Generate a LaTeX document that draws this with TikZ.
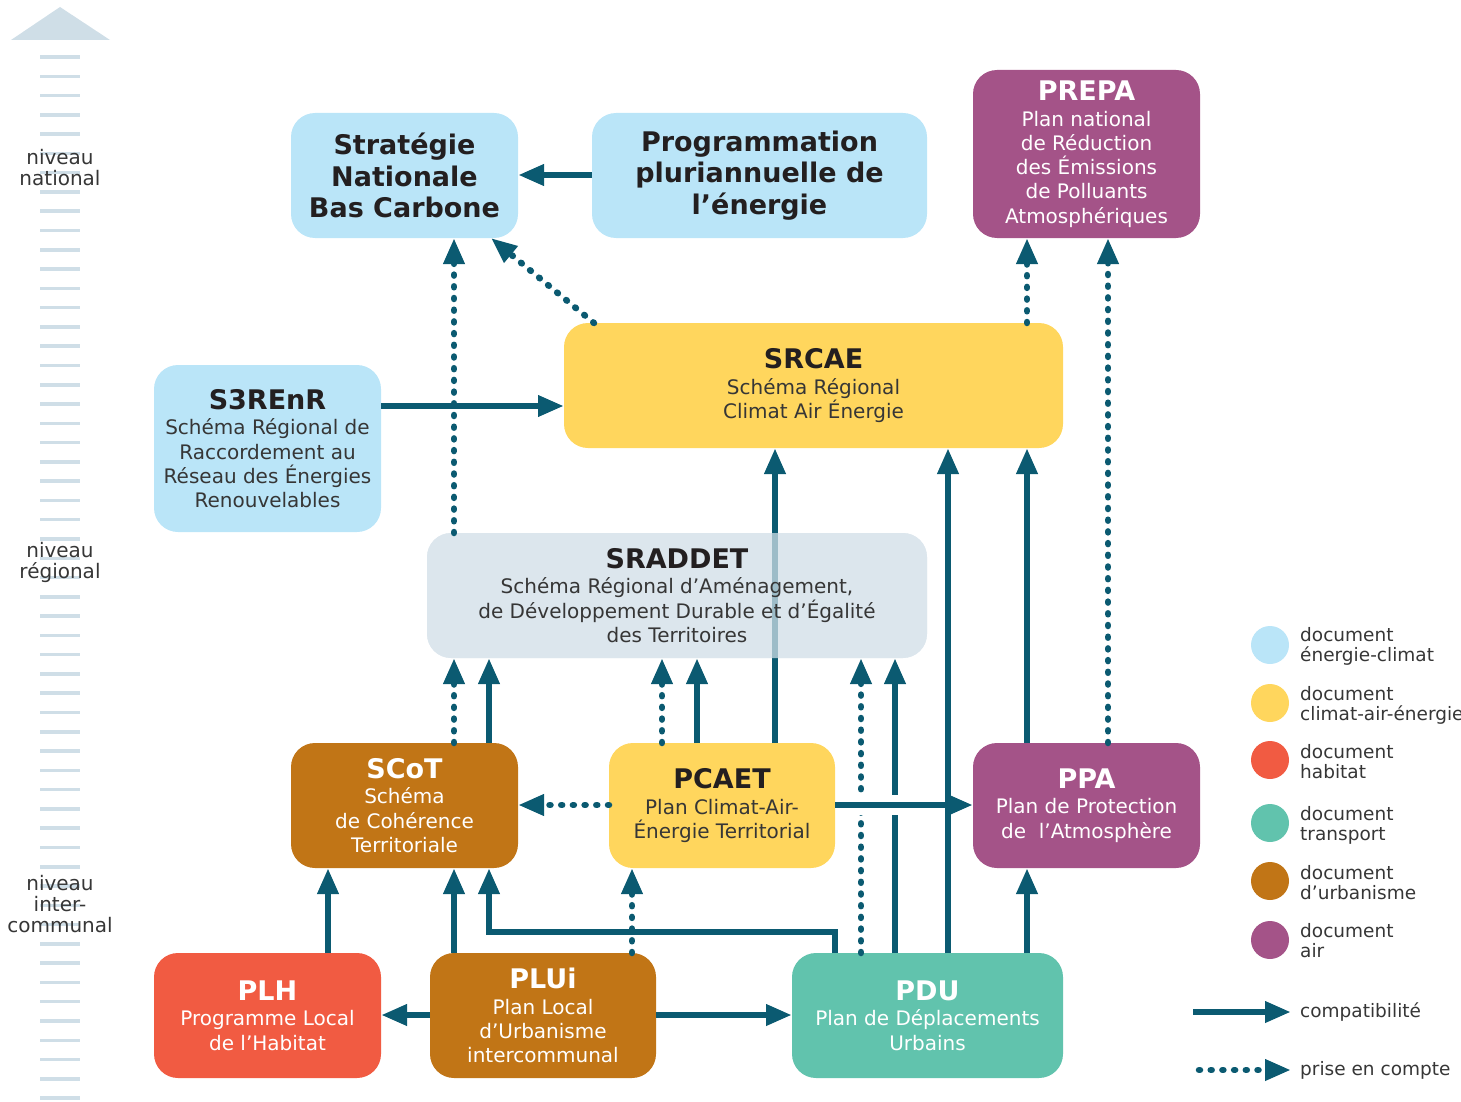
\documentclass[tikz,border=0pt]{standalone}
\usepackage{fontspec}
\setmainfont{DejaVu Sans}
\usetikzlibrary{arrows.meta}

\definecolor{cblue}{HTML}{BAE5F8}
\definecolor{cyellow}{HTML}{FFD65D}
\definecolor{cgray}{HTML}{DCE6ED}
\definecolor{cbrown}{HTML}{C17516}
\definecolor{cpurple}{HTML}{A45388}
\definecolor{corange}{HTML}{F15B42}
\definecolor{cteal}{HTML}{61C3AD}
\definecolor{carrow}{HTML}{0B5A71}
\definecolor{cscale}{HTML}{CFDEE7}
\definecolor{ctext}{HTML}{231F20}
\definecolor{cbody}{HTML}{363636}

\tikzset{
  doc/.style={rounded corners=24pt, inner sep=0pt, outer sep=0pt, align=center,
    font=\fontsize{20}{24.3}\selectfont},
  darkdoc/.style={doc, text=cbody},
  lightdoc/.style={doc, text=white},
  bigdoc/.style={rounded corners=24pt, inner sep=0pt, outer sep=0pt, align=center,
    font=\fontsize{27}{31.5}\selectfont\bfseries, text=ctext},
  comp/.style={draw=carrow, line width=6.5pt, -{Triangle[length=26pt,width=20pt]}},
  prise/.style={draw=carrow, line width=6.5pt, line cap=round, dash pattern=on 1pt off 10.7pt,
    -{Triangle[length=26pt,width=20pt]}},
  casing/.style={draw=white, line width=20pt},
  legtext/.style={anchor=west, align=left, inner sep=0pt, text=cbody,
    font=\fontsize{18.5}{20}\selectfont},
  legdot/.style={circle, inner sep=0pt, minimum size=38pt},
  levtext/.style={align=center, inner sep=0pt, text=cbody, font=\fontsize{20}{21}\selectfont},
}
\newcommand{\dtl}[1]{{\fontsize{27}{27}\selectfont\bfseries\color{ctext}#1}}
\newcommand{\wtl}[1]{{\fontsize{27}{27}\selectfont\bfseries\color{white}#1}}

\begin{document}
\begin{tikzpicture}[x=1pt, y=-1pt]
\useasboundingbox (0,0) rectangle (1461,1102);

% level scale
\fill[cscale] (11,40) -- (60,7) -- (110,40) -- cycle;
\foreach \k in {0,...,54}
  \draw[cscale, line width=3.5pt] (40,{57+19.28*\k}) -- (80,{57+19.28*\k});
\node[levtext] (lvnat) at (60,168) {niveau\\national};
\node[levtext] (lvreg) at (60,562) {niveau\\régional};
\node[levtext] (lvint) at (60,904) {niveau\\inter-\\communal};

% boxes
\node[bigdoc, fill=cblue, minimum width=227pt, minimum height=125pt] (snbc) at (404.5,175.5)
  {Stratégie\\Nationale\\Bas Carbone};
\node[bigdoc, fill=cblue, minimum width=335pt, minimum height=125pt] (ppe) at (759.5,175.5)
  {Programmation\\pluriannuelle de\\l’énergie};
\node[lightdoc, fill=cpurple, minimum width=227pt, minimum height=168pt] (prepa) at (1086.5,154)
  {\wtl{PREPA}\\[1.4pt] Plan national\\de Réduction\\des Émissions\\de Polluants\\Atmosphériques};
\node[darkdoc, fill=cyellow, minimum width=499pt, minimum height=125pt] (srcae) at (813.5,385.5)
  {\dtl{SRCAE}\\[1.4pt] Schéma Régional\\Climat Air Énergie};
\node[darkdoc, fill=cblue, minimum width=227pt, minimum height=167pt] (s3renr) at (267.5,448.5)
  {\dtl{S3REnR}\\[1.4pt] Schéma Régional de\\Raccordement au\\Réseau des Énergies\\Renouvelables};
\node[lightdoc, fill=cbrown, minimum width=227pt, minimum height=125pt] (scot) at (404.5,805.5)
  {\wtl{SCoT}\\[1.4pt] Schéma\\de Cohérence\\Territoriale};
\node[darkdoc, fill=cyellow, minimum width=226pt, minimum height=125pt] (pcaet) at (722,805.5)
  {\dtl{PCAET}\\[1.4pt] Plan Climat-Air-\\Énergie Territorial};
\node[lightdoc, fill=cpurple, minimum width=227pt, minimum height=125pt] (ppa) at (1086.5,805.5)
  {\wtl{PPA}\\[1.4pt] Plan de Protection\\de \ l’Atmosphère};
\node[lightdoc, fill=corange, minimum width=227pt, minimum height=125pt] (plh) at (267.5,1015.5)
  {\wtl{PLH}\\[1.4pt] Programme Local\\de l’Habitat};
\node[lightdoc, fill=cbrown, minimum width=226pt, minimum height=125pt] (plui) at (543,1015.5)
  {\wtl{PLUi}\\[1.4pt] Plan Local\\d’Urbanisme\\intercommunal};
\node[lightdoc, fill=cteal, minimum width=271pt, minimum height=125pt] (pdu) at (927.5,1015.5)
  {\wtl{PDU}\\[1.4pt] Plan de Déplacements\\Urbains};

% PCAET -> SRCAE, passing behind SRADDET
\fill[cgray, rounded corners=24pt] (427,533) rectangle (927,658);
\draw[comp] (pcaet.north -| 775,0) -- (srcae.south -| 775,0);
\node[darkdoc, fill=cgray, fill opacity=0.7, text opacity=1, minimum width=500pt, minimum height=125pt] (sraddet) at (677,595.5)
  {\dtl{SRADDET}\\[1.4pt] Schéma Régional d’Aménagement,\\de Développement Durable et d’Égalité\\des Territoires};

% national level
\draw[comp] (ppe.west |- 0,175) -- (snbc.east |- 0,175);
\draw[prise] ([xshift=30pt]srcae.north west) -- ([xshift=-27pt]snbc.south east);
\draw[comp] (s3renr.east |- 0,406) -- (srcae.west |- 0,406);
\draw[prise] (sraddet.north -| 454,0) -- (snbc.south -| 454,0);
\draw[prise] (srcae.north -| 1027,0) -- (prepa.south -| 1027,0);
\draw[prise] (ppa.north -| 1108,0) -- (prepa.south -| 1108,0);

% towards SRCAE
\draw[comp] (pdu.north -| 948,0) -- (srcae.south -| 948,0);
\draw[comp] (ppa.north -| 1027,0) -- (srcae.south -| 1027,0);

% towards SRADDET
\draw[prise] (scot.north -| 454,0) -- (sraddet.south -| 454,0);
\draw[comp] (scot.north -| 489,0) -- (sraddet.south -| 489,0);
\draw[prise] (pcaet.north -| 662,0) -- (sraddet.south -| 662,0);
\draw[comp] (pcaet.north -| 697,0) -- (sraddet.south -| 697,0);
\draw[prise] (pdu.north -| 861,0) -- (sraddet.south -| 861,0);
\draw[comp] (pdu.north -| 895,0) -- (sraddet.south -| 895,0);

% intercommunal level
\draw[prise] (pcaet.west |- 0,805) -- (scot.east |- 0,805);
\draw[casing] (850,805) -- (906,805);
\draw[comp] (pcaet.east |- 0,805) -- (ppa.west |- 0,805);
\draw[comp] (plh.north -| 328,0) -- (scot.south -| 328,0);
\draw[comp] (plui.north -| 454,0) -- (scot.south -| 454,0);
\draw[comp] (pdu.north -| 835,0) -- (835,932) -- (489,932) -- (scot.south -| 489,0);
\draw[prise] (plui.north -| 632,0) -- (pcaet.south -| 632,0);
\draw[comp] (pdu.north -| 1027,0) -- (ppa.south -| 1027,0);
\draw[comp] (plui.west |- 0,1015) -- (plh.east |- 0,1015);
\draw[comp] (plui.east |- 0,1015) -- (pdu.west |- 0,1015);

% legend
\node[legdot, fill=cblue] (d1) at (1270,645) {};
\node[legtext] (t1) at (1300,646) {document\\énergie-climat};
\node[legdot, fill=cyellow] (d2) at (1270,703) {};
\node[legtext] (t2) at (1300,705) {document\\climat-air-énergie};
\node[legdot, fill=corange] (d3) at (1270,760) {};
\node[legtext] (t3) at (1300,762) {document\\habitat};
\node[legdot, fill=cteal] (d4) at (1270,823) {};
\node[legtext] (t4) at (1300,825) {document\\transport};
\node[legdot, fill=cbrown] (d5) at (1270,881) {};
\node[legtext] (t5) at (1300,883) {document\\d’urbanisme};
\node[legdot, fill=cpurple] (d6) at (1270,940) {};
\node[legtext] (t6) at (1300,941) {document\\air};

\coordinate (lc1) at (1193,1012);
\coordinate (lc2) at (1291,1012);
\draw[comp] (lc1) -- (lc2);
\node[legtext] (tc) at (1300,1012) {compatibilité};
\coordinate (lp1) at (1199,1070);
\coordinate (lp2) at (1291,1070);
\draw[prise] (lp1) -- (lp2);
\node[legtext] (tp) at (1300,1070) {prise en compte};
\end{tikzpicture}
\end{document}
